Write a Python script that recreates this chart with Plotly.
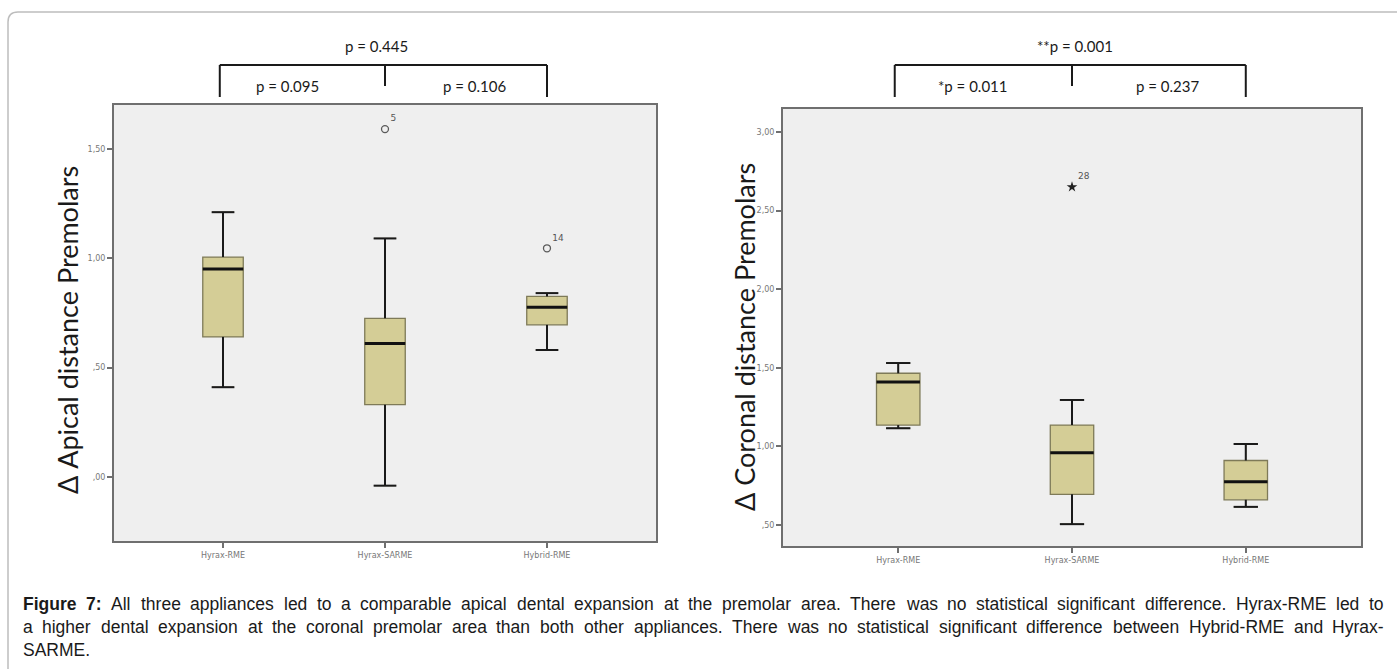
import plotly.graph_objects as go

W, H = 1397, 669

groups = ["Hyrax-RME", "Hyrax-SARME", "Hybrid-RME"]
positions = [0, 1, 2]

# Δ Apical distance Premolars
apical_lower = [0.41, -0.04, 0.58]
apical_q1 = [0.64, 0.33, 0.695]
apical_median = [0.95, 0.61, 0.775]
apical_q3 = [1.005, 0.725, 0.825]
apical_upper = [1.21, 1.09, 0.84]
apical_out_pos = [1, 2]
apical_out_val = [1.59, 1.045]
apical_out_case = ["5", "14"]
apical_ticks = [0.0, 0.5, 1.0, 1.5]
apical_ticktext = [",00", ",50", "1,00", "1,50"]

# Δ Coronal distance Premolars
coronal_lower = [1.115, 0.505, 0.615]
coronal_q1 = [1.135, 0.695, 0.66]
coronal_median = [1.41, 0.96, 0.775]
coronal_q3 = [1.465, 1.135, 0.91]
coronal_upper = [1.53, 1.295, 1.015]
coronal_out_pos = [1]
coronal_out_val = [2.65]
coronal_out_case = ["28"]
coronal_ticks = [0.5, 1.0, 1.5, 2.0, 2.5, 3.0]
coronal_ticktext = [",50", "1,00", "1,50", "2,00", "2,50", "3,00"]

caption_lines = [
    "Figure 7: All three appliances led to a comparable apical dental expansion at the premolar area. "
    "There was no statistical significant difference. Hyrax-RME led to",
    "a higher dental expansion at the coronal premolar area than both other appliances. "
    "There was no statistical significant difference between Hybrid-RME and Hyrax-",
    "SARME.",
]
caption_bold_words = 2  # "Figure 7:"

BOX_W = 0.25
CAP = 0.07
FILL = "#d4cd96"
EDGE = "#7e7a58"
AXIS = "#6f6f6f"
TICKFONT = dict(family="DejaVu Sans", size=8, color="#777777")

fig = go.Figure()


def add_panel(xa, ya, lower, q1, med, q3, upper, out_pos, out_val, out_case, symbol):
    fig.add_trace(go.Box(
        x=positions, q1=q1, median=med, q3=q3, lowerfence=lower, upperfence=upper,
        width=BOX_W, whiskerwidth=0.55, fillcolor=FILL,
        line=dict(color=EDGE, width=1.3), boxpoints=False,
        xaxis=xa, yaxis=ya, showlegend=False, hoverinfo="skip"))
    wx, wy = [], []
    for p, lo, a, b, hi in zip(positions, lower, q1, q3, upper):
        wx += [p, p, None, p - CAP, p + CAP, None, p, p, None, p - CAP, p + CAP, None]
        wy += [b, hi, None, hi, hi, None, a, lo, None, lo, lo, None]
    fig.add_trace(go.Scatter(x=wx, y=wy, mode="lines", line=dict(color="#1a1a1a", width=2),
                             xaxis=xa, yaxis=ya, showlegend=False, hoverinfo="skip"))
    mx, my = [], []
    for p, m in zip(positions, med):
        mx += [p - BOX_W / 2, p + BOX_W / 2, None]
        my += [m, m, None]
    fig.add_trace(go.Scatter(x=mx, y=my, mode="lines", line=dict(color="#111111", width=3),
                             xaxis=xa, yaxis=ya, showlegend=False, hoverinfo="skip"))
    if symbol == "circle-open":
        marker = dict(symbol="circle-open", size=7, color="#5a5a5a", line=dict(width=1.3))
    else:
        marker = dict(symbol="star", size=8, color="#222222")
    fig.add_trace(go.Scatter(x=out_pos, y=out_val, mode="markers+text", text=out_case,
                             textposition="top right",
                             textfont=dict(family="DejaVu Sans", size=9, color="#555555"),
                             marker=marker, xaxis=xa, yaxis=ya, showlegend=False,
                             hoverinfo="skip"))


add_panel("x", "y", apical_lower, apical_q1, apical_median, apical_q3, apical_upper,
          apical_out_pos, apical_out_val, apical_out_case, "circle-open")
add_panel("x2", "y2", coronal_lower, coronal_q1, coronal_median, coronal_q3, coronal_upper,
          coronal_out_pos, coronal_out_val, coronal_out_case, "star")


def px_x(v):
    return v / W


def px_y(v):
    return 1 - v / H


axis_common = dict(showline=True, mirror=True, linecolor=AXIS, linewidth=2,
                   ticks="outside", ticklen=5, tickwidth=1.5, tickcolor=AXIS,
                   showgrid=False, zeroline=False, tickfont=TICKFONT)

fig.update_layout(
    width=W, height=H, margin=dict(l=0, r=0, t=0, b=0),
    paper_bgcolor="white", plot_bgcolor="#efefef",
    xaxis=dict(domain=[px_x(114), px_x(656)], range=[-0.673, 2.673],
               tickvals=positions, ticktext=groups, anchor="y", **axis_common),
    yaxis=dict(domain=[px_y(541), px_y(105)], range=[-0.293, 1.70],
               tickvals=apical_ticks, ticktext=apical_ticktext, anchor="x", **axis_common),
    xaxis2=dict(domain=[px_x(783), px_x(1361)], range=[-0.663, 2.663],
                tickvals=positions, ticktext=groups, anchor="y2", **axis_common),
    yaxis2=dict(domain=[px_y(546), px_y(109)], range=[0.366, 3.146],
                tickvals=coronal_ticks, ticktext=coronal_ticktext, anchor="x2", **axis_common),
)

# outer rounded frame
r = 10
x0, y0, x1, y1 = px_x(8), px_y(12), px_x(1420), px_y(700)
fig.add_shape(type="path", xref="paper", yref="paper",
              path=f"M {x0},{y1} L {x0},{y0 - r / H} Q {x0},{y0} {x0 + r / W},{y0} L {x1},{y0}",
              line=dict(color="#bdbdbd", width=1.5))

# significance brackets
bracket = dict(color="#1a1a1a", width=2)
for xr in ["x", "x2"]:
    top, end, mid = px_y(65), px_y(97), px_y(86)
    fig.add_shape(type="line", xref=xr, yref="paper", x0=-0.02, x1=2.0, y0=top, y1=top, line=bracket)
    fig.add_shape(type="line", xref=xr, yref="paper", x0=-0.02, x1=-0.02, y0=top, y1=end, line=bracket)
    fig.add_shape(type="line", xref=xr, yref="paper", x0=2.0, x1=2.0, y0=top, y1=end, line=bracket)
    fig.add_shape(type="line", xref=xr, yref="paper", x0=1.0, x1=1.0, y0=top, y1=mid, line=bracket)

pfont = dict(family="Lato", size=15, color="#1a1a1a")
p_labels = [
    ("x", 0.95, 46, "p = 0.445"),
    ("x", 0.40, 86, "p = 0.095"),
    ("x", 1.55, 86, "p = 0.106"),
    ("x2", 1.02, 46, "**p = 0.001"),
    ("x2", 0.43, 86, "*p = 0.011"),
    ("x2", 1.55, 86, "p = 0.237"),
]
for xr, xv, yv, txt in p_labels:
    fig.add_annotation(xref=xr, yref="paper", x=xv, y=px_y(yv), text=txt, showarrow=False,
                       font=pfont, xanchor="center", yanchor="middle")

# axis titles
tfont = dict(family="Lato", size=27, color="#1a1a1a")
fig.add_annotation(xref="paper", yref="paper", x=px_x(67), y=px_y(330),
                   text="Δ Apical distance Premolars", textangle=-90, showarrow=False,
                   font=tfont, xanchor="center", yanchor="middle")
fig.add_annotation(xref="paper", yref="paper", x=px_x(744), y=px_y(337),
                   text="Δ Coronal distance Premolars", textangle=-90, showarrow=False,
                   font=tfont, xanchor="center", yanchor="middle")

# caption, justified word by word using Arial/Liberation Sans advance widths (per 1000 em)
REG = {" ": 278, ".": 278, ":": 278, "-": 333, "7": 556,
       "a": 556, "b": 556, "c": 500, "d": 556, "e": 556, "f": 278, "g": 556, "h": 556,
       "i": 222, "j": 222, "k": 500, "l": 222, "m": 833, "n": 556, "o": 556, "p": 556,
       "q": 556, "r": 333, "s": 500, "t": 278, "u": 556, "v": 500, "w": 722, "x": 500,
       "y": 500, "z": 500, "A": 667, "E": 667, "F": 611, "H": 722, "M": 833, "R": 722,
       "S": 667, "T": 611}
BOLD = {"F": 611, "i": 278, "g": 611, "u": 611, "r": 389, "e": 556, "7": 556, ":": 333, " ": 278}
CAP_SIZE = 17.5
CAP_LEFT, CAP_RIGHT = 22, 1383


def word_width(word, bold):
    table = BOLD if bold else REG
    return sum(table.get(ch, 556) for ch in word) * CAP_SIZE / 1000


cfont = dict(family="Liberation Sans", size=CAP_SIZE, color="#1a1a1a")
for li, line in enumerate(caption_lines):
    words = line.split(" ")
    bold = [li == 0 and wi < caption_bold_words for wi in range(len(words))]
    widths = [word_width(w, b) for w, b in zip(words, bold)]
    if li < len(caption_lines) - 1:
        gap = (CAP_RIGHT - CAP_LEFT - sum(widths)) / (len(words) - 1)
    else:
        gap = REG[" "] * CAP_SIZE / 1000
    xpos = CAP_LEFT
    for w, b, wd in zip(words, bold, widths):
        fig.add_annotation(xref="paper", yref="paper", x=px_x(xpos), y=px_y(604 + 23 * li),
                           text=f"<b>{w}</b>" if b else w, showarrow=False, font=cfont,
                           xanchor="left", yanchor="middle", borderpad=0)
        xpos += wd + gap

fig.write_html("out.html")
